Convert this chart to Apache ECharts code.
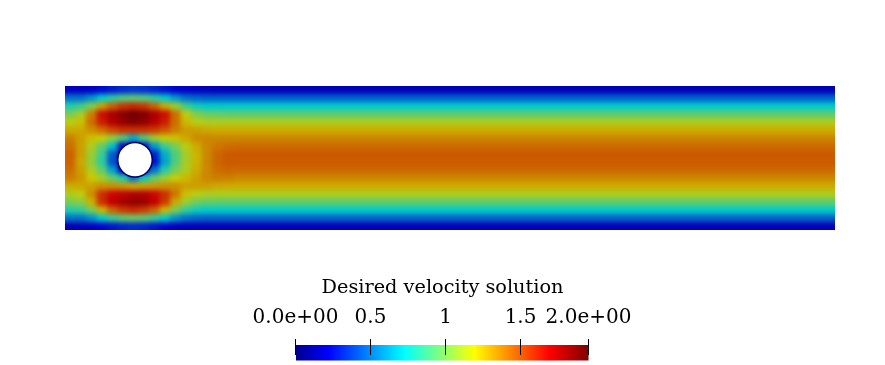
<!DOCTYPE html>
<html>
<head>
<meta charset="utf-8">
<style>html,body{margin:0;padding:0;background:#fff}#c{width:885px;height:365px}</style>
<script src="https://cdn.jsdelivr.net/npm/echarts@6/dist/echarts.min.js"></script>
</head>
<body>
<div id="c"></div>
<script>
// velocity magnitude; rows run top to bottom of the channel
const channelLength = 2.2, channelHeight = 0.41;
const cylinderCentre = [0.2, 0.2];
const colStep = 0.03;
const nearRows = [
 [.18,.18,.20,.24,.28,.32,.34,.33,.30,.26,.22,.20,.18,.17,.16,.16,.16,.16,.16,.16],
 [.50,.50,.58,.72,.82,.90,.93,.90,.82,.72,.60,.50,.47,.46,.46,.46,.46,.46,.46,.46],
 [.80,.86,1.02,1.30,1.45,1.56,1.60,1.56,1.45,1.28,1.08,.88,.76,.72,.72,.72,.72,.72,.72,.72],
 [1.00,1.10,1.38,1.66,1.78,1.86,1.93,1.88,1.78,1.66,1.42,1.16,1.02,.96,.95,.94,.94,.94,.94,.94],
 [1.15,1.22,1.42,1.62,1.75,1.84,1.88,1.85,1.75,1.62,1.42,1.24,1.15,1.12,1.12,1.12,1.12,1.12,1.12,1.12],
 [1.27,1.28,1.34,1.42,1.52,1.58,1.58,1.58,1.55,1.48,1.38,1.31,1.30,1.28,1.27,1.27,1.27,1.27,1.27,1.27],
 [1.38,1.30,1.22,1.18,1.05,.90,.65,.90,1.08,1.18,1.22,1.28,1.35,1.36,1.36,1.36,1.36,1.36,1.36,1.36],
 [1.42,1.30,1.12,.95,.70,.25,.15,.25,.60,.85,1.00,1.15,1.27,1.36,1.40,1.42,1.43,1.43,1.43,1.43],
 [1.45,1.30,1.08,.85,.45,.10,.10,.10,.30,.65,.90,1.10,1.25,1.36,1.44,1.47,1.47,1.47,1.47,1.47],
 [1.45,1.28,1.06,.82,.42,.10,.10,.10,.25,.62,.90,1.10,1.25,1.36,1.44,1.47,1.47,1.47,1.47,1.47],
 [1.42,1.30,1.12,.95,.62,.20,.15,.20,.50,.80,1.00,1.12,1.27,1.36,1.42,1.44,1.43,1.43,1.43,1.43],
 [1.38,1.32,1.20,1.10,.95,.80,.50,.75,.95,1.08,1.18,1.24,1.30,1.36,1.38,1.38,1.36,1.36,1.36,1.36],
 [1.27,1.28,1.30,1.34,1.34,1.32,1.28,1.30,1.32,1.34,1.34,1.30,1.30,1.30,1.28,1.27,1.27,1.27,1.27,1.27],
 [1.12,1.16,1.34,1.58,1.68,1.72,1.75,1.75,1.68,1.58,1.40,1.22,1.15,1.12,1.12,1.12,1.12,1.12,1.12,1.12],
 [1.00,1.04,1.26,1.58,1.72,1.80,1.85,1.83,1.72,1.55,1.28,1.08,.98,.95,.94,.94,.94,.94,.94,.94],
 [.80,.84,.98,1.25,1.45,1.55,1.60,1.55,1.45,1.25,1.00,.84,.75,.72,.72,.72,.72,.72,.72,.72],
 [.50,.50,.58,.72,.85,.93,.96,.93,.85,.72,.58,.50,.47,.46,.46,.46,.46,.46,.46,.46],
 [.15,.16,.18,.22,.26,.30,.32,.30,.26,.22,.18,.17,.16,.16,.16,.16,.16,.16,.16,.16]
];
const farProfile = [.16,.46,.72,.94,1.12,1.27,1.36,1.43,1.47,1.47,1.43,1.36,1.27,1.12,.94,.72,.46,.16];

const barTitle = 'Desired velocity solution';
const barMin = 0, barMax = 1.953;
const barTicks = [0, 0.5, 1, 1.5, 1.953];
const barTickLabels = ['0.0e+00', '0.5', '1', '1.5', '2.0e+00'];

const jetStops = [[0,[0,0,143]],[.11,[0,0,255]],[.37,[0,255,255]],[.49,[127,255,127]],[.61,[255,255,0]],[.866,[255,0,0]],[1,[128,0,0]]];
const fieldShade = 0.8;

function palette(shade) {
  const out = [];
  for (let i = 0; i <= 100; i++) {
    const p = i / 100;
    let k = 0;
    while (k < jetStops.length - 2 && p > jetStops[k + 1][0]) k++;
    const a = jetStops[k], b = jetStops[k + 1], t = (p - a[0]) / (b[0] - a[0]);
    const c = a[1].map((v, j) => Math.round((v + (b[1][j] - v) * t) * shade));
    out.push('rgb(' + c.join(',') + ')');
  }
  return out;
}

const rowStep = channelHeight / nearRows.length;
const farStart = colStep * nearRows[0].length;
const cells = [];
nearRows.forEach((row, r) => {
  const y1 = channelHeight - r * rowStep, y0 = y1 - rowStep;
  row.forEach((v, c) => cells.push([c * colStep, (c + 1) * colStep, y0, y1, v]));
  cells.push([farStart, channelLength, y0, y1, farProfile[r]]);
});

const chart = echarts.init(document.getElementById('c'), null, {renderer: 'canvas'});
const serif = '"DejaVu Serif", serif';
chart.setOption({
  animation: false,
  backgroundColor: 'transparent',
  title: {text: barTitle, left: 442.5, top: 278, padding: 0, textAlign: 'center', zlevel: 1,
    textStyle: {fontFamily: serif, fontWeight: 'normal', fontSize: 19.3, color: '#000'}},
  grid: [
    {left: 65, top: 86, width: 770, height: 144},
    {left: 295.5, top: 345, width: 293, height: 15.5}
  ],
  xAxis: [
    {type: 'value', min: 0, max: channelLength, show: false, gridIndex: 0, zlevel: 1},
    {type: 'value', min: barMin, max: barMax, gridIndex: 1, position: 'top', offset: -5.5, zlevel: 2, z: 10,
      splitLine: {show: false}, axisLine: {show: false},
      axisTick: {show: true, length: 16, inside: false, customValues: barTicks, lineStyle: {color: '#000', width: 1}},
      axisLabel: {show: true, margin: 23, fontFamily: serif, fontSize: 20, color: '#000',
        customValues: barTicks, formatter: v => barTickLabels[barTicks.indexOf(v)] || ''}}
  ],
  yAxis: [
    {type: 'value', min: 0, max: channelHeight, show: false, gridIndex: 0, zlevel: 1},
    {type: 'value', min: 0, max: 1, show: false, gridIndex: 1, zlevel: 1}
  ],
  visualMap: [
    {type: 'continuous', show: false, seriesIndex: 0, dimension: 4, min: barMin, max: barMax,
      inRange: {color: palette(fieldShade)}}
  ],
  series: [
    {type: 'custom', coordinateSystem: 'cartesian2d', xAxisIndex: 0, yAxisIndex: 0, zlevel: 0, silent: true,
      data: cells, encode: {x: [0, 1], y: [2, 3]},
      renderItem: function (params, api) {
        const a = api.coord([api.value(0), api.value(3)]);
        const b = api.coord([api.value(1), api.value(2)]);
        const pad = 14;
        const x0 = api.value(0) === 0 ? a[0] - pad : a[0];
        const x1 = api.value(1) >= channelLength ? b[0] + pad : b[0] + 0.5;
        const y0 = api.value(3) >= channelHeight - 1e-9 ? a[1] - pad : a[1];
        const y1 = api.value(2) <= 1e-9 ? b[1] + pad : b[1] + 0.5;
        return {type: 'rect', shape: {x: x0, y: y0, width: x1 - x0, height: y1 - y0},
          style: {fill: api.visual('color')}};
      }},
    {type: 'scatter', xAxisIndex: 0, yAxisIndex: 0, zlevel: 1, silent: true,
      data: [cylinderCentre], symbolSize: 34.5,
      itemStyle: {color: '#fff', borderColor: '#00006e', borderWidth: 1.5, opacity: 1}},
    {type: 'custom', coordinateSystem: 'cartesian2d', xAxisIndex: 1, yAxisIndex: 1, zlevel: 1, silent: true,
      data: [[barMin, barMax]], encode: {x: [0, 1]},
      renderItem: function (params, api) {
        const a = api.coord([api.value(0), 1]);
        const b = api.coord([api.value(1), 0]);
        const cols = palette(1);
        return {type: 'rect', shape: {x: a[0] + 0.5, y: a[1], width: b[0] - a[0] - 0.5, height: b[1] - a[1]},
          style: {fill: new echarts.graphic.LinearGradient(0, 0, 1, 0,
            cols.map((color, i) => ({offset: i / (cols.length - 1), color})))}};
      }}
  ]
});
chart.on('finished', applyBlur);
applyBlur();
function applyBlur() {
  const cv = document.querySelectorAll('#c canvas')[0];
  if (cv) { cv.style.filter = 'blur(2.5px)'; cv.style.clipPath = 'inset(86px 50px 135px 65px)'; }
}
</script>
</body>
</html>
